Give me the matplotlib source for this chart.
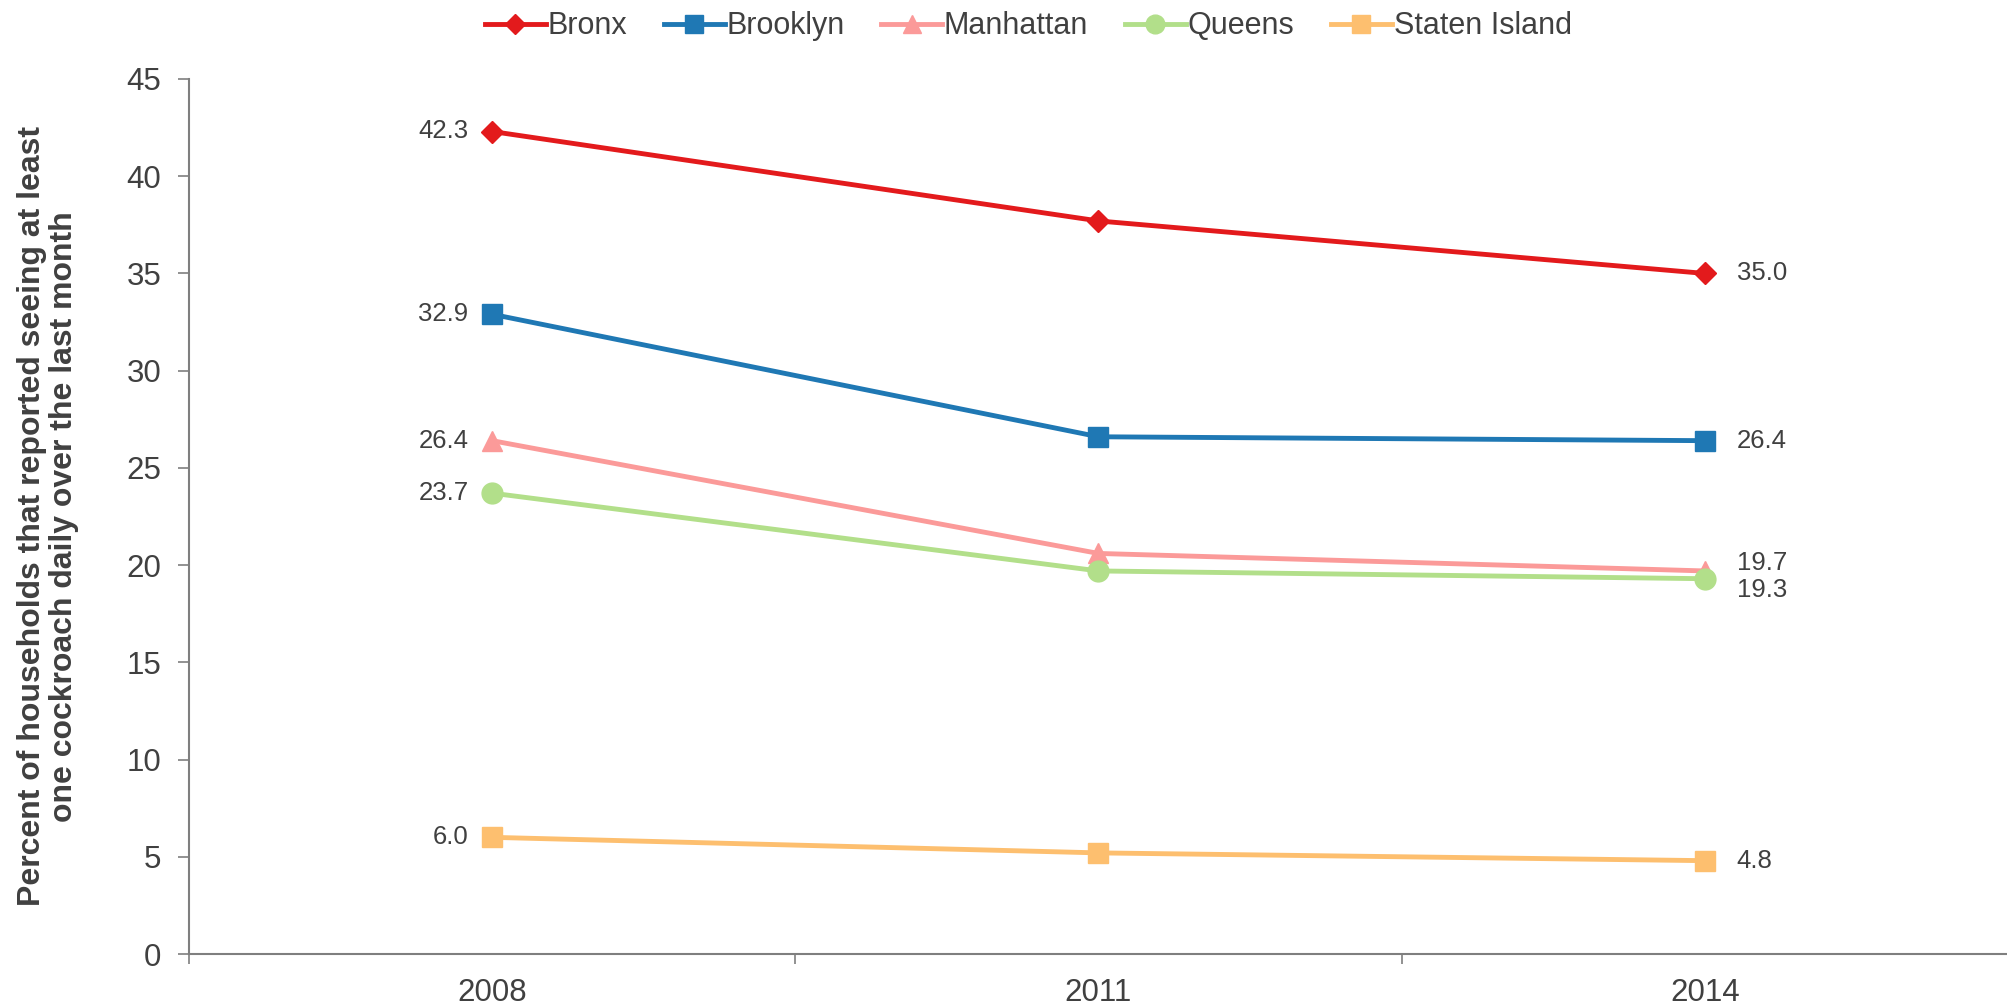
import numpy as np
import matplotlib
matplotlib.use("Agg")
import matplotlib.pyplot as plt

years = ['2008', '2011', '2014']
boroughs = ['Bronx', 'Brooklyn', 'Manhattan', 'Queens', 'Staten Island']
bronx = [42.3, 37.7, 35.0]
brooklyn = [32.9, 26.6, 26.4]
manhattan = [26.4, 20.6, 19.7]
queens = [23.7, 19.7, 19.3]
staten = [6.0, 5.2, 4.8]

series = [bronx, brooklyn, manhattan, queens, staten]
colors = ['#e31a1c', '#1f78b4', '#fb9a99', '#b2df8a', '#fdbf6f']
markers = ['D', 's', '^', 'o', 's']
msizes = [11, 14, 15, 15, 14]

plt.rcParams['font.family'] = ['Liberation Sans', 'DejaVu Sans']
txt = '#404040'
grey = '#7f7f7f'

fig = plt.figure(figsize=(20.08, 10.07), dpi=100)
ax = fig.add_axes([189 / 2008, 1 - 954 / 1007, 1 - 189 / 2008, (954 - 79) / 1007])

x = np.arange(len(years)) + 0.5
for i in range(len(boroughs)):
    ax.plot(x, series[i], color=colors[i], lw=3.5, marker=markers[i],
            markersize=msizes[i], label=boroughs[i])

# data labels at first and last year
for i in range(len(boroughs)):
    v0 = series[i][0]
    ax.annotate('%.1f' % v0, (x[0], v0), xytext=(-17, 0), textcoords='offset points',
                ha='right', va='center', fontsize=18.5, color=txt)
    v1 = series[i][-1]
    dy = 0
    if boroughs[i] == 'Manhattan':
        dy = 6
    if boroughs[i] == 'Queens':
        dy = -8
    ax.annotate('%.1f' % v1, (x[-1], v1), xytext=(23, dy), textcoords='offset points',
                ha='left', va='center', fontsize=18.5, color=txt)

ax.set_xlim(0, 3)
ax.set_ylim(0, 45)
ax.set_yticks(np.arange(0, 46, 5))
ax.set_xticks([0, 1, 2, 3])
ax.set_xticks(x, minor=True)
ax.set_xticklabels([])
ax.set_xticklabels(years, minor=True)
ax.tick_params(axis='x', which='major', direction='out', length=7, width=1.2, color=grey)
ax.tick_params(axis='x', which='minor', length=0, pad=17, labelsize=22.5, labelcolor=txt)
ax.tick_params(axis='y', direction='out', length=8, width=1.2, color=grey, pad=12,
               labelsize=22.5, labelcolor=txt)

for s in ['top', 'right']:
    ax.spines[s].set_visible(False)
for s in ['left', 'bottom']:
    ax.spines[s].set_color(grey)
    ax.spines[s].set_linewidth(1.5)

ax.set_ylabel('Percent of households that reported seeing at least\none cockroach daily over the last month',
              fontsize=23, fontweight='bold', color=txt, linespacing=1.1)
ax.yaxis.set_label_coords(-0.0605, 0.5)

fig.legend(loc='upper center', bbox_to_anchor=(0.512, 1.016), ncol=5, frameon=False,
           fontsize=22, handlelength=2.0, handletextpad=0.05, columnspacing=1.2,
           markerscale=0.9, labelcolor=txt)

fig.savefig('out.png', dpi=100)
